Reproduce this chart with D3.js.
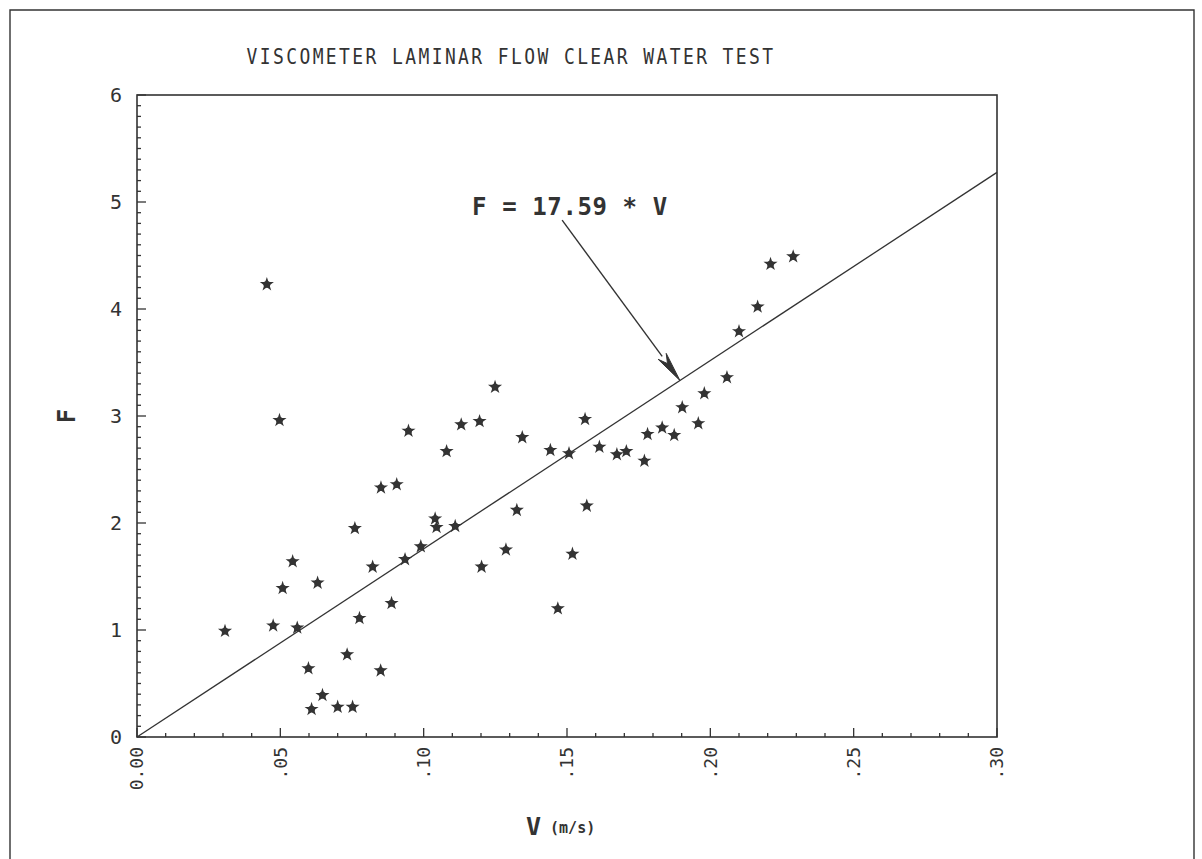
<!DOCTYPE html>
<html>
<head>
<meta charset="utf-8">
<script src="https://cdn.jsdelivr.net/npm/d3@7"></script>
<style>
  html, body { margin: 0; padding: 0; background: #fff; }
  svg { display: block; }
</style>
</head>
<body>
<script>
// ---- data ----
const velocity = [0.0307,0.0453,0.0475,0.0497,0.0508,0.0543,0.0559,0.0598,0.0609,0.0630,
  0.0647,0.0700,0.0733,0.0752,0.0760,0.0776,0.0822,0.0850,0.0851,0.0888,
  0.0906,0.0935,0.0947,0.0990,0.1040,0.1045,0.1080,0.1110,0.1131,0.1195,
  0.1202,0.1249,0.1287,0.1325,0.1344,0.1442,0.1468,0.1507,0.1519,0.1563,
  0.1569,0.1613,0.1674,0.1707,0.1770,0.1781,0.1832,0.1874,0.1902,0.1958,
  0.1979,0.2058,0.2100,0.2165,0.2210,0.2289];
const force = [0.99,4.23,1.04,2.96,1.39,1.64,1.02,0.64,0.26,1.44,
  0.39,0.28,0.77,0.28,1.95,1.11,1.59,0.62,2.33,1.25,
  2.36,1.66,2.86,1.78,2.04,1.96,2.67,1.97,2.92,2.95,
  1.59,3.27,1.75,2.12,2.80,2.68,1.20,2.65,1.71,2.97,
  2.16,2.71,2.64,2.67,2.58,2.83,2.89,2.82,3.08,2.93,
  3.21,3.36,3.79,4.02,4.42,4.49];
const slope = 17.59;
const xTicks = [0.00,0.05,0.10,0.15,0.20,0.25,0.30];
const xTickLabels = ["0.00",".05",".10",".15",".20",".25",".30"];
const yTicks = [0,1,2,3,4,5,6];
const yTickLabels = ["0","1","2","3","4","5","6"];
const titleText = "VISCOMETER LAMINAR FLOW CLEAR WATER TEST";
const equationText = "F = 17.59 * V";
const eqAnchor = {v: 0.1169, f: 4.88};     // text start (data units)
const arrowFrom = {v: 0.1483, f: 4.83};
const arrowToV = 0.1894;                    // arrow tip lands on the fit line

// ---- layout ----
const W = 1202, H = 859;
const ink = "#333";
const margin = {left: 137, right: W - 997, top: 95, bottom: H - 737};

const svg = d3.select("body").append("svg").attr("width", W).attr("height", H);

// outer frame
svg.append("path")
  .attr("d", `M10,${H + 5} L10,10 L1194,10 L1194,${H + 5}`)
  .attr("fill", "none").attr("stroke", ink).attr("stroke-width", 1.4);

const x = d3.scaleLinear().domain([0, 0.30]).range([margin.left, W - margin.right]);
const y = d3.scaleLinear().domain([0, 6]).range([H - margin.bottom, margin.top]);

const mono = "'DejaVu Sans Mono', 'Liberation Mono', monospace";

// plot box
svg.append("rect")
  .attr("x", x(0)).attr("y", y(6))
  .attr("width", x(0.30) - x(0)).attr("height", y(0) - y(6))
  .attr("fill", "none").attr("stroke", ink).attr("stroke-width", 1.6);

// minor ticks
const xMinor = d3.range(0, 31).map(i => i / 100);
svg.append("g").selectAll("line").data(xMinor).join("line")
  .attr("x1", d => x(d)).attr("x2", d => x(d))
  .attr("y1", y(0)).attr("y2", (d, i) => y(0) - (i % 5 === 0 ? 9 : 4))
  .attr("stroke", ink).attr("stroke-width", 1.3);
const yMinor = d3.range(0, 61).map(i => i / 10);
svg.append("g").selectAll("line").data(yMinor).join("line")
  .attr("y1", d => y(d)).attr("y2", d => y(d))
  .attr("x1", x(0)).attr("x2", (d, i) => x(0) + (i % 10 === 0 ? 9 : 4))
  .attr("stroke", ink).attr("stroke-width", 1.3);

// x tick labels (rotated)
svg.append("g").selectAll("text").data(xTicks).join("text")
  .attr("transform", d => `translate(${x(d)},${y(0) + 10}) rotate(-90)`)
  .attr("text-anchor", "end").attr("dy", "0.36em")
  .attr("font-family", mono).attr("font-size", 18).attr("fill", ink)
  .text((d, i) => xTickLabels[i]);

// y tick labels
svg.append("g").selectAll("text").data(yTicks).join("text")
  .attr("x", x(0) - 21).attr("y", d => y(d)).attr("dy", "0.36em")
  .attr("text-anchor", "middle")
  .attr("font-family", mono).attr("font-size", 20).attr("fill", ink)
  .text((d, i) => yTickLabels[i]);

// title
svg.append("text")
  .attr("transform", "translate(511,64) scale(1,1.15)")
  .attr("text-anchor", "middle")
  .attr("font-family", mono).attr("font-size", 18).attr("letter-spacing", 2.4)
  .attr("fill", ink).text(titleText);

// axis labels
svg.append("text")
  .attr("transform", `translate(66,${y(3)}) rotate(-90)`)
  .attr("text-anchor", "middle").attr("dy", "0.36em")
  .attr("font-family", mono).attr("font-weight", "bold").attr("font-size", 24)
  .attr("fill", ink).text("F");
const xl = svg.append("text")
  .attr("x", 526).attr("y", 835)
  .attr("font-family", mono).attr("font-weight", "bold").attr("fill", ink);
xl.append("tspan").attr("font-size", 25).text("V");
xl.append("tspan").attr("font-size", 15).attr("dx", 9).attr("dy", -2).text("(m/s)");

// fit line
const fit = [0, 0.30];
svg.append("path")
  .datum(fit)
  .attr("d", d3.line().x(d => x(d)).y(d => y(slope * d)))
  .attr("fill", "none").attr("stroke", ink).attr("stroke-width", 1.3);

// points (blobby asterisk markers)
const sym = d3.symbol().type(d3.symbolStar).size(62);
const pts = svg.append("g").selectAll("g").data(velocity).join("g")
  .attr("transform", (d, i) => `translate(${x(d)},${y(force[i])})`);
pts.append("circle").attr("r", 3.4).attr("fill", ink);
pts.append("path").attr("d", sym).attr("fill", ink);

// equation annotation
svg.append("text")
  .attr("x", x(eqAnchor.v)).attr("y", y(eqAnchor.f))
  .attr("font-family", mono).attr("font-weight", "bold").attr("font-size", 24)
  .attr("letter-spacing", 0.6).attr("fill", ink).text(equationText);

// arrow
const x0 = x(arrowFrom.v), y0 = y(arrowFrom.f);
const x1 = x(arrowToV), y1 = y(slope * arrowToV);
const ang = Math.atan2(y1 - y0, x1 - x0);
const headL = 30, headW = 5;
const bx = x1 - headL * Math.cos(ang), by = y1 - headL * Math.sin(ang);
svg.append("line")
  .attr("x1", x0).attr("y1", y0).attr("x2", bx).attr("y2", by)
  .attr("stroke", ink).attr("stroke-width", 1.4);
const px = -Math.sin(ang), py = Math.cos(ang);
svg.append("path")
  .attr("d", `M${x1},${y1} L${bx + px * headW},${by + py * headW} L${bx + 0.3*headL*Math.cos(ang)},${by + 0.3*headL*Math.sin(ang)} L${bx - px * headW},${by - py * headW} Z`)
  .attr("fill", ink).attr("stroke", ink).attr("stroke-width", 1);
</script>
</body>
</html>
